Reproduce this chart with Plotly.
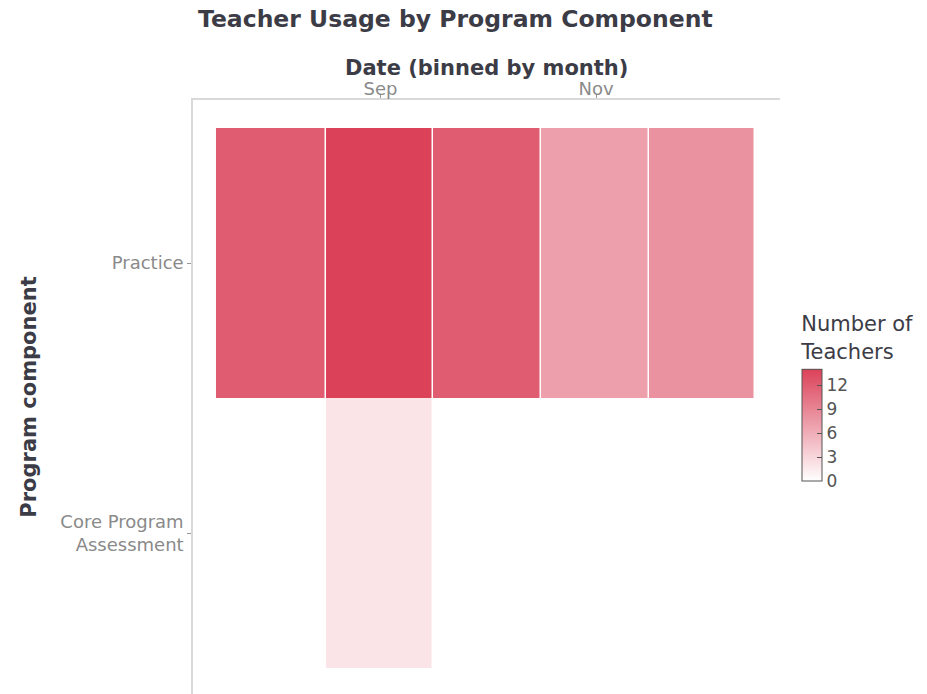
import plotly.graph_objects as go

months = ["2021-08-01", "2021-09-01", "2021-10-01", "2021-11-01", "2021-12-01"]
components = ["Practice", "Core Program<br>Assessment"]
practice_teachers = [12, 14, 12, 7, 8]
core_teachers = [None, 2, None, None, None]
tick_dates = ["2021-09-01", "2021-11-01"]
tick_labels = ["Sep", "Nov"]
colorbar_ticks = [0, 3, 6, 9, 12]

fig = go.Figure()
fig.add_trace(go.Heatmap(
    x=months,
    y=components,
    z=[practice_teachers, core_teachers],
    zmin=0,
    zmax=max(practice_teachers),
    colorscale=[[0, "#FFFFFF"], [1, "#DB4159"]],
    xgap=1.5,
    ygap=0,
    hoverongaps=False,
    colorbar=dict(
        title=dict(text="Number of<br>Teachers", font=dict(family="DejaVu Sans", size=21, color="#3c3c46"), side="top"),
        tickvals=colorbar_ticks,
        ticks="inside",
        ticklen=5,
        tickcolor="#555555",
        tickfont=dict(family="DejaVu Sans", size=17, color="#555555"),
        outlinecolor="#555555",
        outlinewidth=1,
        thickness=20,
        lenmode="pixels",
        len=168,
        ypad=0,
        x=1.02,
        xanchor="left",
        y=0.3586,
        yanchor="bottom",
    ),
))

fig.update_layout(
    width=919,
    height=686,
    paper_bgcolor="white",
    plot_bgcolor="white",
    margin=dict(l=185, r=147, t=92, b=0),
    xaxis=dict(
        type="date",
        side="top",
        range=["2021-07-10", "2021-12-23"],
        tickvals=tick_dates,
        ticktext=tick_labels,
        ticks="outside",
        ticklen=4,
        tickcolor="#9a9a9a",
        ticklabelstandoff=-8,
        tickfont=dict(family="DejaVu Sans", size=18, color="#8a8a8a"),
        showgrid=False,
        zeroline=False,
        showline=True,
        linecolor="#d9d9d9",
        linewidth=1.5,
    ),
    yaxis=dict(
        type="category",
        categoryorder="array",
        categoryarray=components,
        range=[1.5963, -0.6037],
        ticks="outside",
        ticklen=4,
        tickcolor="#9a9a9a",
        tickfont=dict(family="DejaVu Sans", size=18, color="#8a8a8a"),
        showgrid=False,
        zeroline=False,
        showline=True,
        linecolor="#d9d9d9",
        linewidth=1.5,
        title=dict(text="<b>Program component</b>", standoff=18,
                   font=dict(family="DejaVu Sans", size=21, color="#3c3c46")),
    ),
    annotations=[
        dict(
            text="<b>Teacher Usage by Program Component</b>",
            xref="paper", yref="paper", x=0.448, y=1.1364,
            xanchor="center", yanchor="middle", showarrow=False,
            font=dict(family="DejaVu Sans", size=23.5, color="#3c3c46"),
        ),
        dict(
            text="<b>Date (binned by month)</b>",
            xref="paper", yref="paper", x=0.5, y=1.0539,
            xanchor="center", yanchor="middle", showarrow=False,
            font=dict(family="DejaVu Sans", size=21, color="#3c3c46"),
        ),
    ],
)

fig.write_html("out.html")
